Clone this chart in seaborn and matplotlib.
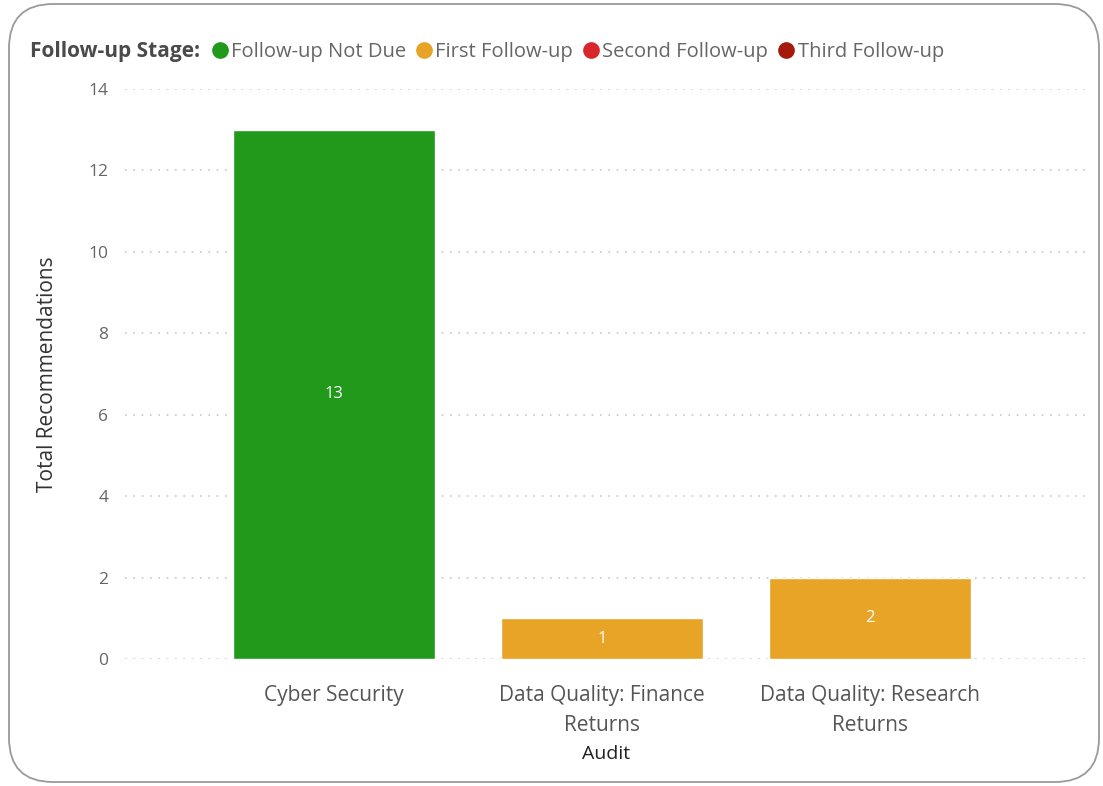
import pandas as pd
import seaborn as sns
import matplotlib.pyplot as plt
from matplotlib.lines import Line2D
from matplotlib.patches import FancyBboxPatch

audits = ["Cyber Security", "Data Quality: Finance\nReturns", "Data Quality: Research\nReturns"]
stages = ["Follow-up Not Due", "First Follow-up", "First Follow-up"]
totals = [13, 1, 2]

stage_order = ["Follow-up Not Due", "First Follow-up", "Second Follow-up", "Third Follow-up"]
stage_colors = ["#21991A", "#E8A427", "#D9262B", "#A51A0A"]

df = pd.DataFrame({"Audit": audits, "Stage": stages, "Total": totals})

sns.set_theme(style="white")
plt.rcParams['font.family'] = ['Open Sans', 'DejaVu Sans']

fig = plt.figure(figsize=(11.03, 7.86), dpi=100)
ax = fig.add_axes([0.1133, 0.1616, 0.8722, 0.7252])

palette = dict(zip(stage_order, stage_colors))
sns.barplot(data=df, x="Audit", y="Total", hue="Stage", hue_order=stage_order,
            palette=palette, dodge=False, width=0.755, saturation=1,
            legend=False, ax=ax)

for c in ax.containers:
    vals = list(c.datavalues)
    if all(pd.isna(v) for v in vals):
        continue
    ax.bar_label(c, labels=["" if pd.isna(v) else f"{int(v)}" for v in vals],
                 label_type="center", color="white", fontsize=12)

ax.set_ylim(0, 14)
ax.set_yticks(range(0, 15, 2))
ax.set_xlim(-0.78, 2.81)
ax.yaxis.grid(True, color="#c8c8c8", linestyle=(0, (1, 4)), linewidth=1.2)
ax.set_axisbelow(True)
for s in ax.spines.values():
    s.set_visible(False)
ax.tick_params(axis="y", colors="#666666", labelsize=12.5, length=0, pad=12)
ax.tick_params(axis="x", colors="#555555", labelsize=15, length=0, pad=19)
for t in ax.get_xticklabels():
    t.set_linespacing(1.55)
ax.set_ylabel("Total Recommendations", fontsize=15, color="#333333", labelpad=22)
ax.set_xlabel("Audit", fontsize=14, color="#222222", labelpad=6)

# legend row at top
fig.text(30 / 1103, 1 - 52 / 786, "Follow-up Stage:", fontsize=15, fontweight="bold",
         color="#4a4a4a", va="center", ha="left")
handles = [Line2D([], [], marker="o", linestyle="", markersize=11, color=col)
           for col in stage_colors]
fig.legend(handles, stage_order, loc="center left", bbox_to_anchor=(210 / 1103, 1 - 52 / 786),
           ncol=4, frameon=False, fontsize=14.5, handletextpad=0.05, columnspacing=0.4,
           borderpad=0, borderaxespad=0, handlelength=1.0, labelcolor="#666666")

# rounded card border
border = FancyBboxPatch((9 / 1103, 4 / 786), 1090 / 1103, 778 / 786,
                        boxstyle="round,pad=0,rounding_size=0.04",
                        transform=fig.transFigure, facecolor="none",
                        edgecolor="#9a9a9a", linewidth=1.3, mutation_aspect=1103 / 786)
fig.patches.append(border)

fig.savefig("out.png", dpi=100)
